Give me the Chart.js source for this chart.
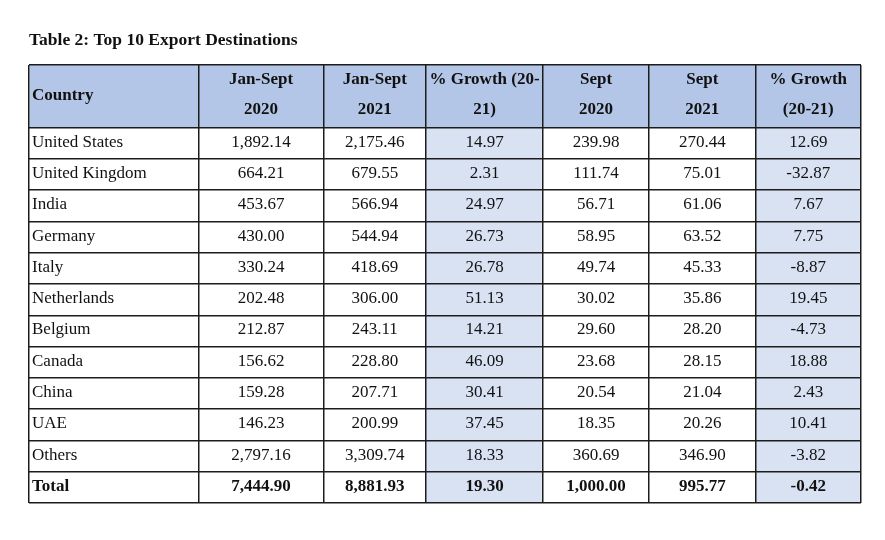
<!DOCTYPE html>
<html lang="en">
<head>
<meta charset="UTF-8">
<title>Table 2: Top 10 Export Destinations</title>
<script src="https://cdn.jsdelivr.net/npm/chart.js"></script>
<style>
  body { margin: 0; background: #fff; }
  .wrap { width: 885px; height: 540px; position: relative; }
</style>
</head>
<body>
<div class="wrap"><canvas id="tbl"></canvas></div>
<script>
// table data
const countries = ['United States', 'United Kingdom', 'India', 'Germany', 'Italy', 'Netherlands',
  'Belgium', 'Canada', 'China', 'UAE', 'Others', 'Total'];
const janSept2020 = [1892.14, 664.21, 453.67, 430.00, 330.24, 202.48, 212.87, 156.62, 159.28, 146.23, 2797.16, 7444.90];
const janSept2021 = [2175.46, 679.55, 566.94, 544.94, 418.69, 306.00, 243.11, 228.80, 207.71, 200.99, 3309.74, 8881.93];
const growthJanSept = [14.97, 2.31, 24.97, 26.73, 26.78, 51.13, 14.21, 46.09, 30.41, 37.45, 18.33, 19.30];
const sept2020 = [239.98, 111.74, 56.71, 58.95, 49.74, 30.02, 29.60, 23.68, 20.54, 18.35, 360.69, 1000.00];
const sept2021 = [270.44, 75.01, 61.06, 63.52, 45.33, 35.86, 28.20, 28.15, 21.04, 20.26, 346.90, 995.77];
const growthSept = [12.69, -32.87, 7.67, 7.75, -8.87, 19.45, -4.73, 18.88, 2.43, 10.41, -3.82, -0.42];
const headers = [['Country'], ['Jan-Sept', '2020'], ['Jan-Sept', '2021'], ['% Growth (20-', '21)'],
  ['Sept', '2020'], ['Sept', '2021'], ['% Growth', '(20-21)']];

// layout
const colWidths = [169.5, 125, 102.5, 117, 106, 106.5, 105.5];
const colEdges = colWidths.reduce((a, w) => { a.push(a[a.length - 1] + w); return a; }, [0]);
const tableWidth = colEdges[colEdges.length - 1];
const rowLabels = ['header-1', 'header-2'].concat(countries); // header takes two row slots
const columns = [countries, janSept2020, janSept2021, growthJanSept, sept2020, sept2021, growthSept];
const shadedCols = [3, 6];
const FONT = '"Liberation Serif", "Times New Roman", serif';
const lineColor = '#1c1c1c';

const fmt = v => v.toLocaleString('en-US', { minimumFractionDigits: 2, maximumFractionDigits: 2 });

const datasets = [{
  label: 'header',
  data: rowLabels.map((_, i) => i < 2 ? [0, tableWidth] : null),
  backgroundColor: '#b4c6e7'
}].concat(shadedCols.map(c => ({
  label: headers[c].join(' '),
  data: rowLabels.map((_, i) => i < 2 ? null : [colEdges[c], colEdges[c + 1] - 1.5]),
  backgroundColor: '#d9e2f3'
})));

// writes the cell texts using the scales
const cellText = {
  id: 'cellText',
  afterDraw(chart) {
    const { ctx, scales: { x, y } } = chart;
    ctx.save();
    ctx.fillStyle = '#111';
    ctx.textBaseline = 'alphabetic';
    const hdrMid = (y.getPixelForValue(0) + y.getPixelForValue(1)) / 2;
    ctx.font = 'bold 17px ' + FONT;
    headers.forEach((lines, c) => {
      const x0 = x.getPixelForValue(colEdges[c]);
      const x1 = x.getPixelForValue(colEdges[c + 1]);
      if (c === 0) {
        ctx.textAlign = 'left';
        ctx.fillText(lines[0], x0 + 3, hdrMid + 3.5);
      } else {
        ctx.textAlign = 'center';
        ctx.fillText(lines[0], (x0 + x1) / 2, hdrMid - 12);
        ctx.fillText(lines[1], (x0 + x1) / 2, hdrMid + 17.5);
      }
    });
    countries.forEach((name, r) => {
      const yb = y.getPixelForValue(r + 2) + 3.5;
      const bold = r === countries.length - 1;
      ctx.font = (bold ? 'bold ' : '') + '17px ' + FONT;
      columns.forEach((col, c) => {
        const x0 = x.getPixelForValue(colEdges[c]);
        const x1 = x.getPixelForValue(colEdges[c + 1]);
        if (c === 0) {
          ctx.textAlign = 'left';
          ctx.fillText(col[r], x0 + 3, yb);
        } else {
          ctx.textAlign = 'center';
          ctx.fillText(fmt(col[r]), (x0 + x1) / 2, yb);
        }
      });
    });
    ctx.restore();
  }
};

new Chart(document.getElementById('tbl'), {
  type: 'bar',
  data: { labels: rowLabels, datasets: datasets },
  options: {
    indexAxis: 'y',
    responsive: true,
    maintainAspectRatio: false,
    animation: false,
    grouped: false,
    barPercentage: 1,
    categoryPercentage: 1,
    layout: { padding: { left: 29, right: 24, top: 20, bottom: 37 } },
    plugins: {
      legend: { display: false },
      tooltip: { enabled: false },
      title: {
        display: true,
        text: 'Table 2: Top 10 Export Destinations',
        align: 'start',
        color: '#111',
        font: { family: FONT, size: 17.5, weight: 'bold' },
        padding: { top: 10, bottom: 14 }
      }
    },
    scales: {
      x: {
        type: 'linear',
        min: 0,
        max: tableWidth,
        afterBuildTicks: s => { s.ticks = colEdges.map(v => ({ value: v })); },
        ticks: { display: false },
        grid: { z: 1, color: lineColor, lineWidth: 1.5, drawTicks: false },
        border: { display: false }
      },
      y: {
        ticks: { display: false },
        grid: {
          z: 1,
          offset: true,
          drawTicks: false,
          lineWidth: 1.5,
          color: c => c.index === 1 ? 'rgba(0,0,0,0)' : lineColor
        },
        border: { display: false }
      }
    }
  },
  plugins: [cellText]
});
</script>
</body>
</html>
